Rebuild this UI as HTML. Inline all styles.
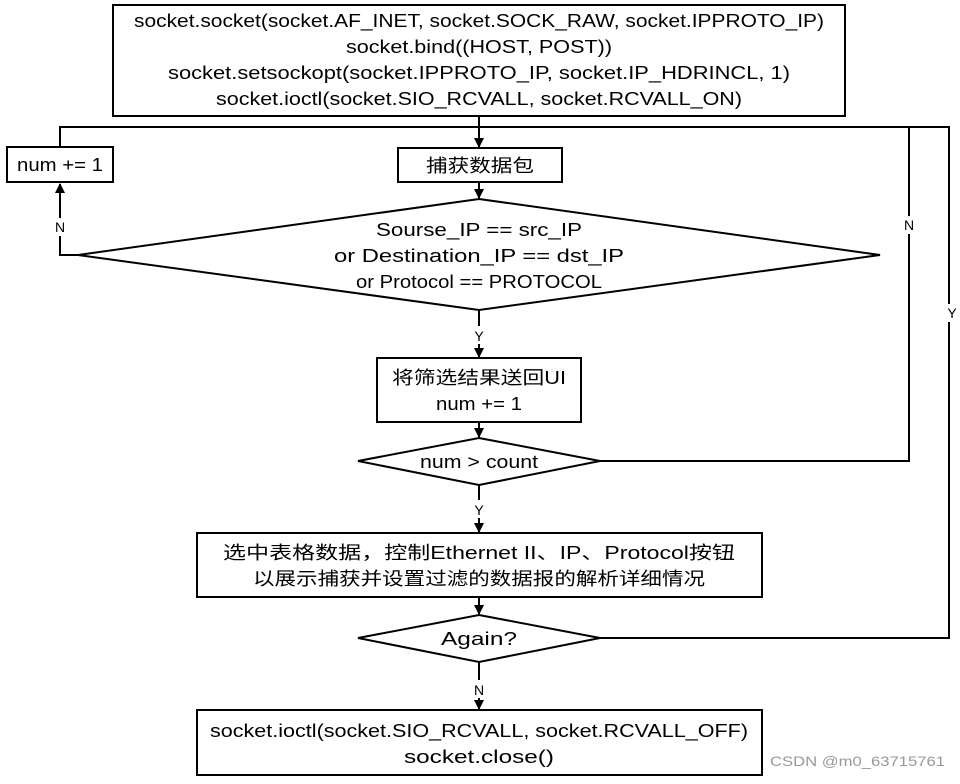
<!DOCTYPE html>
<html><head><meta charset="utf-8"><style>
body{margin:0;background:#fff}
text{font-family:"Liberation Sans","WenQuanYi Zen Hei",sans-serif;font-size:18px;fill:#000}
</style></head><body>
<svg width="960" height="779" xmlns="http://www.w3.org/2000/svg">
<defs><marker id="a" markerWidth="10" markerHeight="10" refX="9" refY="5" orient="auto" markerUnits="userSpaceOnUse"><path d="M0,0 L10,5 L0,10 z" fill="#000"/></marker></defs>
<g fill="none" stroke="#000" stroke-width="2">
<rect x="113" y="5" width="732" height="111"/>
<rect x="7" y="147" width="106" height="35"/>
<rect x="398" y="148" width="164" height="34"/>
<polygon points="479,199 880,255 479,310 78,255"/>
<rect x="377" y="358" width="204" height="64"/>
<polygon points="479,438 600,461 479,485 358,461"/>
<rect x="197" y="533" width="565" height="64"/>
<polygon points="479,615 600,638 479,662 358,638"/>
<rect x="197" y="710" width="565" height="65"/>
<line x1="479" y1="116" x2="479" y2="147" marker-end="url(#a)"/>
<polyline points="60,147 60,127 949,127 949,638 600,638"/>
<polyline points="909,127 909,461 600,461"/>
<line x1="479" y1="182" x2="479" y2="198" marker-end="url(#a)"/>
<polyline points="78,255 60,255 60,184" marker-end="url(#a)"/>
<line x1="479" y1="310" x2="479" y2="357" marker-end="url(#a)"/>
<line x1="479" y1="422" x2="479" y2="437" marker-end="url(#a)"/>
<line x1="479" y1="485" x2="479" y2="532" marker-end="url(#a)"/>
<line x1="479" y1="597" x2="479" y2="614" marker-end="url(#a)"/>
<line x1="479" y1="662" x2="479" y2="709" marker-end="url(#a)"/>
</g>
<g fill="#fff"><rect x="470" y="326" width="18" height="18"/><rect x="470" y="500" width="18" height="18"/><rect x="470" y="680" width="18" height="18"/><rect x="52" y="218" width="16" height="18"/><rect x="901" y="216" width="16" height="18"/><rect x="941" y="304" width="16" height="18"/></g>
<g text-anchor="middle">
<text x="479" y="27" textLength="690" lengthAdjust="spacingAndGlyphs">socket.socket(socket.AF_INET, socket.SOCK_RAW, socket.IPPROTO_IP)</text>
<text x="479" y="53" textLength="266" lengthAdjust="spacingAndGlyphs">socket.bind((HOST, POST))</text>
<text x="479" y="79" textLength="622" lengthAdjust="spacingAndGlyphs">socket.setsockopt(socket.IPPROTO_IP, socket.IP_HDRINCL, 1)</text>
<text x="479" y="105" textLength="526" lengthAdjust="spacingAndGlyphs">socket.ioctl(socket.SIO_RCVALL, socket.RCVALL_ON)</text>
<text x="60" y="171" textLength="86" lengthAdjust="spacingAndGlyphs">num += 1</text>
<text x="480" y="172" textLength="108" lengthAdjust="spacingAndGlyphs">捕获数据包</text>
<text x="479" y="236" textLength="206" lengthAdjust="spacingAndGlyphs">Sourse_IP == src_IP</text>
<text x="479" y="262" textLength="290" lengthAdjust="spacingAndGlyphs">or Destination_IP == dst_IP</text>
<text x="479" y="288" textLength="246" lengthAdjust="spacingAndGlyphs">or Protocol == PROTOCOL</text>
<text x="479" y="384" textLength="174" lengthAdjust="spacingAndGlyphs">将筛选结果送回UI</text>
<text x="479" y="410" textLength="86" lengthAdjust="spacingAndGlyphs">num += 1</text>
<text x="479" y="468" textLength="118" lengthAdjust="spacingAndGlyphs">num &gt; count</text>
<text x="479" y="559" textLength="512" lengthAdjust="spacingAndGlyphs">选中表格数据，控制Ethernet II、IP、Protocol按钮</text>
<text x="479" y="585" textLength="452" lengthAdjust="spacingAndGlyphs">以展示捕获并设置过滤的数据报的解析详细情况</text>
<text x="479" y="645" textLength="76" lengthAdjust="spacingAndGlyphs">Again?</text>
<text x="479" y="737" textLength="538" lengthAdjust="spacingAndGlyphs">socket.ioctl(socket.SIO_RCVALL, socket.RCVALL_OFF)</text>
<text x="479" y="763" textLength="150" lengthAdjust="spacingAndGlyphs">socket.close()</text>
<text x="479" y="341" style="font-size:14px">Y</text>
<text x="479" y="515" style="font-size:14px">Y</text>
<text x="479" y="695" style="font-size:14px">N</text>
<text x="60" y="232" style="font-size:14px">N</text>
<text x="909" y="230" style="font-size:14px">N</text>
<text x="952" y="318" style="font-size:14px">Y</text>
</g>
<text x="770" y="766" style="font-size:14px;fill:#999" textLength="175" lengthAdjust="spacingAndGlyphs">CSDN @m0_63715761</text>
</svg>
</body></html>
